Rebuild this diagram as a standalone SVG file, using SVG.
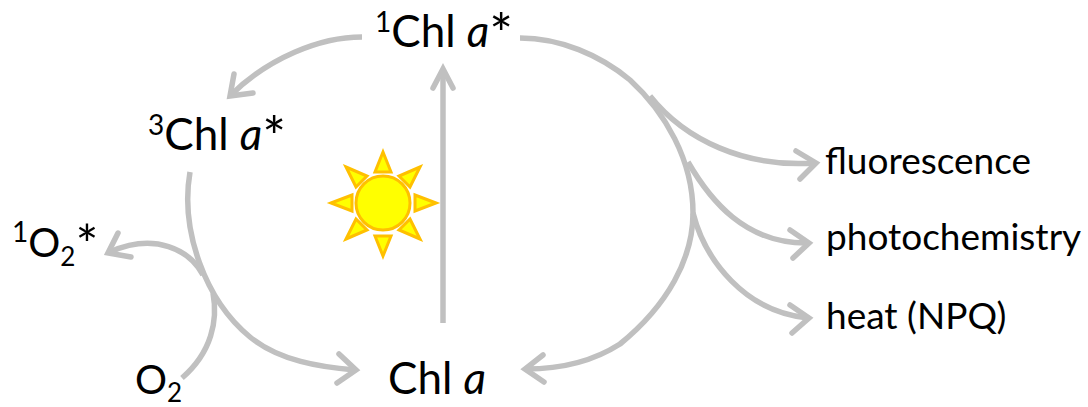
<svg xmlns="http://www.w3.org/2000/svg" width="1088" height="407" viewBox="0 0 1088 407">
<style>
.c{fill:none;stroke:#c0c0c0;stroke-width:5.5;}
.h{fill:none;stroke:#c0c0c0;stroke-width:5.5;stroke-linecap:round;stroke-linejoin:miter;}
text{font-family:"Lato","Open Sans",sans-serif;fill:#000;}
.big{font-size:44px;}
.sm{font-size:37px;}
.ray{fill:#ffff00;stroke:#ffc000;stroke-width:3;}
</style>
<rect width="1088" height="407" fill="#fff"/>
<g id="connectors">
<path class="c" d="M362 37C320 37 268 58 230 96"/>
<path class="h" d="M234 74L230 96L253 93"/>
<path class="c" d="M443 323V70"/>
<path class="h" d="M433 88L443 69L453 88"/>
<path class="c" d="M520 38C560 38 600 55 630 80C665 112 693 160 693 213C693 258 668 305 620 344C592 362 558 369 526 369"/>
<path class="h" d="M543 355L525 369L544 382"/>
<path class="c" d="M190 172C180 230 205 300 250 337C280 361 320 367 355 370"/>
<path class="h" d="M339 354L356 370L337 383"/>
<path class="c" d="M650 96C685 140 745 168 815 163"/>
<path class="h" d="M796 151L816 163L800 179"/>
<path class="c" d="M688 162C710 200 745 244 808 243"/>
<path class="h" d="M790 230L809 243L793 258"/>
<path class="c" d="M693 213C705 260 745 312 808 318"/>
<path class="h" d="M790 305L809 318L792 333"/>
<path class="c" d="M203 275C190 250 155 232 110 252"/>
<path class="h" d="M118 233L108 253L131 257"/>
<path class="c" d="M213 293C218 320 212 352 182 378"/>
</g>
<g id="sun">
<circle class="ray" cx="383" cy="203" r="27"/>
<path class="ray" d="M383 152L391 172H375Z"/>
<path class="ray" d="M383 256L391 236H375Z"/>
<path class="ray" d="M331 203L352 195V211Z"/>
<path class="ray" d="M436 203L415 195V211Z"/>
<path class="ray" d="M346 167L367 176L356 187Z"/>
<path class="ray" d="M420 167L399 176L410 187Z"/>
<path class="ray" d="M346 239L367 230L356 219Z"/>
<path class="ray" d="M420 239L399 230L410 219Z"/>
</g>
<g id="chl1"><text class="big" x="375" y="47"><tspan font-size="28" dy="-15">1</tspan><tspan dy="15">Chl </tspan><tspan font-style="italic">a</tspan><tspan font-size="56" dy="7">*</tspan></text></g>
<g id="chl3"><text class="big" x="148" y="150"><tspan font-size="28" dy="-15">3</tspan><tspan dy="15">Chl </tspan><tspan font-style="italic">a</tspan><tspan font-size="56" dy="7">*</tspan></text></g>
<g id="chl"><text class="big" x="388" y="394">Chl <tspan font-style="italic">a</tspan></text></g>
<g id="o2star"><text class="big" x="12" y="257"><tspan font-size="28" dy="-15">1</tspan><tspan font-size="40" dy="15">O</tspan><tspan font-size="26" dy="9">2</tspan><tspan font-size="54" dy="-2">*</tspan></text></g>
<g id="o2"><text class="big" x="135" y="394"><tspan font-size="40">O</tspan><tspan font-size="26" dy="8">2</tspan></text></g>
<g id="fluorescence"><text class="sm" x="825" y="174">fluorescence</text></g>
<g id="photochemistry"><text class="sm" x="826" y="250">photochemistry</text></g>
<g id="heat"><text class="sm" x="826" y="329">heat (NPQ)</text></g>
</svg>
